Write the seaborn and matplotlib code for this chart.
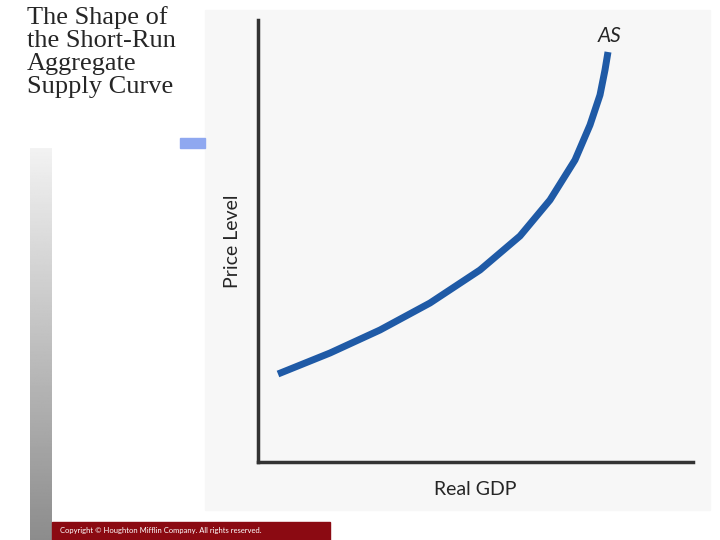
import numpy as np
import matplotlib
matplotlib.use("Agg")
import matplotlib.pyplot as plt
import seaborn as sns
import pandas as pd

# AS curve (arbitrary units: GDP, price level)
gdp = [20, 72, 122, 172, 222, 262, 292, 317, 332, 342, 347, 350]
price = [88, 109, 132, 159, 192, 226, 262, 302, 337, 367, 392, 410]
df = pd.DataFrame({"Real GDP": gdp, "Price Level": price})

sns.set_style("white")
plt.rcParams['font.family'] = ['Lato', 'DejaVu Sans']

fig = plt.figure(figsize=(7.2, 5.4), dpi=100)

# faint panel behind the chart
fig.patches.append(plt.Rectangle((205/720, 30/540), 505/720, 500/540,
                                 transform=fig.transFigure, color="#f7f7f7", zorder=-2))
# blue accent under the title
fig.patches.append(plt.Rectangle((180/720, 392/540), 25/720, 10/540,
                                 transform=fig.transFigure, color="#8fa8f0", zorder=-1))
# grey gradient bar on the left
grad = np.linspace(0.95, 0.55, 256).reshape(-1, 1)
gax = fig.add_axes([30/720, 0, 22/720, 392/540])
gax.imshow(grad, aspect="auto", cmap="gray", vmin=0, vmax=1)
gax.axis("off")
# copyright bar
fig.patches.append(plt.Rectangle((52/720, 0), 278/720, 18/540,
                                 transform=fig.transFigure, color="#8b0a12", zorder=1))
fig.text(60/720, 9/540, "Copyright © Houghton Mifflin Company. All rights reserved.",
         color="white", fontsize=5.5, va="center")

fig.text(27/720, 534/540, "The Shape of\nthe Short-Run\nAggregate\nSupply Curve",
         family="Liberation Serif", fontsize=19, va="top", linespacing=1.05)

ax = fig.add_axes([258/720, 78/540, 435/720, 442/540])
ax.set_facecolor("none")
sns.lineplot(data=df, x="Real GDP", y="Price Level", ax=ax, color="#1f5aa6",
             linewidth=5, sort=False, solid_capstyle="butt")
ax.set_xlim(0, 435)
ax.set_ylim(0, 442)
ax.set_xticks([])
ax.set_yticks([])
sns.despine(ax=ax)
for s in ["left", "bottom"]:
    ax.spines[s].set_linewidth(2.5)
    ax.spines[s].set_color("#333333")
ax.set_xlabel("Real GDP", fontsize=14, labelpad=14)
ax.set_ylabel("Price Level", fontsize=14, labelpad=12)
ax.text(340, 420, "AS", fontsize=15, style="italic")

fig.savefig("out.png", dpi=100)
